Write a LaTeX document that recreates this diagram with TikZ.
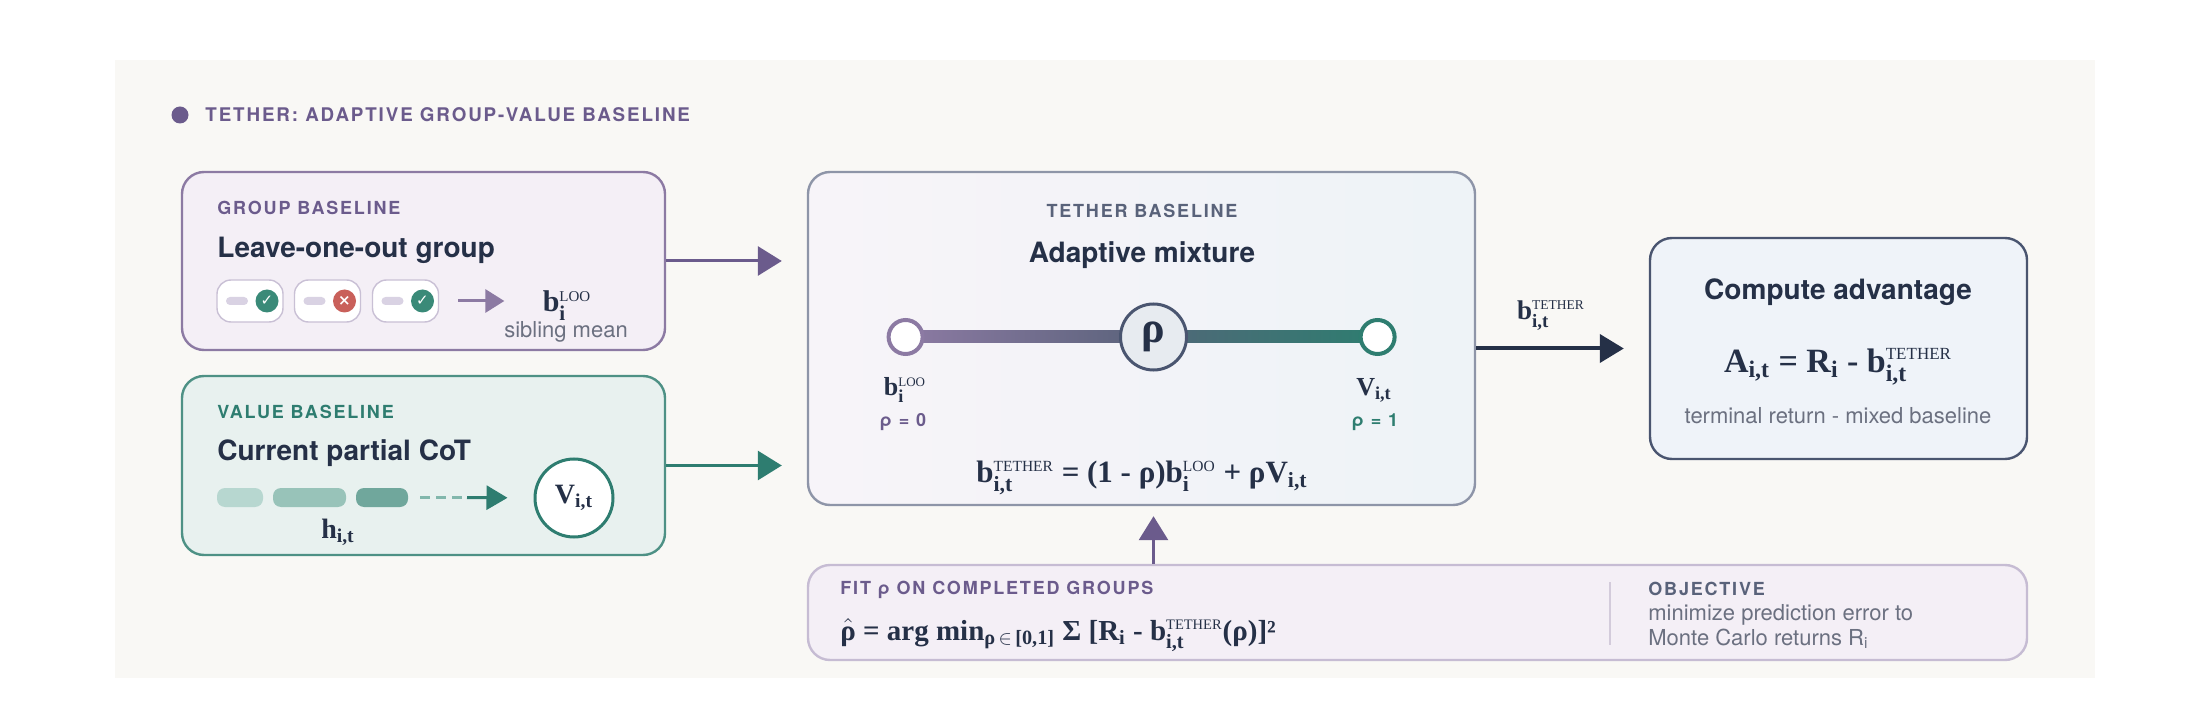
\documentclass[tikz,border=0pt]{standalone}
\usepackage{fontspec}
\usepackage{amsmath}
\usetikzlibrary{arrows.meta}
\setmainfont{Liberation Serif}
\setsansfont{TeX Gyre Heros}
\newfontfamily\capsfont[LetterSpace=10]{TeX Gyre Heros}
\newfontfamily\symfont{DejaVu Sans}
\definecolor{paper}{HTML}{F9F8F5}
\definecolor{plum}{HTML}{6B5B8C}
\definecolor{plumline}{HTML}{8C7AA3}
\definecolor{plumfill}{HTML}{F4EFF6}
\definecolor{teal}{HTML}{2E7D70}
\definecolor{tealline}{HTML}{4E9185}
\definecolor{tealfill}{HTML}{E8F1EF}
\definecolor{navy}{HTML}{253047}
\definecolor{slate}{HTML}{59627A}
\definecolor{slateline}{HTML}{8E95A8}
\definecolor{navyline}{HTML}{4A5570}
\definecolor{cmpfill}{HTML}{EFF3F9}
\definecolor{fitline}{HTML}{C6BCD3}
\definecolor{grey}{HTML}{6B7080}
\definecolor{chipline}{HTML}{C9C0D5}
\definecolor{pill}{HTML}{D9D2E3}
\definecolor{okc}{HTML}{3A8A78}
\definecolor{badc}{HTML}{C9605A}
\definecolor{tokA}{HTML}{B7D7D0}
\definecolor{tokB}{HTML}{98C3B9}
\definecolor{tokC}{HTML}{70A79C}
\definecolor{dashc}{HTML}{82B7AC}
\definecolor{rhofill}{HTML}{E7EBF0}
\definecolor{divc}{HTML}{D3CBDB}
\newcommand\bsub[3]{#1$_{\text{#2}}^{\scriptscriptstyle\text{\mdseries #3}}$}
\newcommand\bsb[2]{#1$_{\text{#2}}$}
\begin{document}
\begin{tikzpicture}[x=0.5pt,y=-0.5pt,
  box/.style={draw,rounded corners=11pt,line width=1.2pt,inner sep=0pt},
  kicker/.style={font=\capsfont\bfseries\fontsize{9}{9}\selectfont,inner sep=0pt,anchor=west},
  head/.style={font=\sffamily\bfseries\fontsize{14}{14}\selectfont,text=navy,inner sep=0pt},
  note/.style={font=\sffamily\fontsize{11}{11}\selectfont,text=grey,inner sep=0pt},
  rholab/.style={font=\capsfont\bfseries\fontsize{9}{9}\selectfont,inner sep=0pt},
  mth/.style={font=\bfseries\fontsize{#1}{#1}\selectfont,text=navy,inner sep=0pt},
  mth/.default=14,
  tok/.style={rounded corners=4pt,minimum height=9.5pt,inner sep=0pt},
  link/.style={-{Triangle[length=12pt,width=14.5pt]},line width=1.5pt}]
  \useasboundingbox (0,0) rectangle (2210,705);
  \fill[paper] (115,60) rectangle (2095,678);
  \fill[plum] (180,115) circle (8.5);
  \node[kicker,text=plum,font=\capsfont\bfseries\fontsize{9.4}{9.4}\selectfont] (title) at (205,115) {TETHER: ADAPTIVE GROUP-VALUE BASELINE};

  \node[box,draw=plumline,fill=plumfill,minimum width=241.5pt,minimum height=89pt] (group) at (423.5,261) {};
  \node[box,draw=tealline,fill=tealfill,minimum width=241.5pt,minimum height=89.5pt] (value) at (423.5,465.5) {};
  \node[box,draw=slateline,left color=plumfill!70!white,right color=cmpfill!80!tealfill,minimum width=333.5pt,minimum height=166.5pt] (mix) at (1141.5,338.5) {};
  \node[box,draw=navyline,fill=cmpfill,minimum width=188.5pt,minimum height=110.5pt] (cmp) at (1838.5,348.5) {};
  \node[box,draw=fitline,fill=plumfill,minimum width=609.5pt,minimum height=47.5pt] (fit) at (1417.5,612.5) {};

  \node[kicker,text=plum] (glabel) at (217,208) {GROUP BASELINE};
  \node[head,anchor=base west] (gtitle) at (217,258) {Leave-one-out group};
  \foreach \x/\c/\s [count=\i] in {250/okc/✓,327.5/badc/×,405.5/okc/✓} {
    \node[draw=chipline,fill=white,rounded corners=7pt,line width=0.7pt,minimum width=33pt,minimum height=21pt] (chip\i) at (\x,301) {};
    \fill[pill,rounded corners=2pt] (\x-24,297) rectangle (\x-2,305);
    \node[circle,fill=\c,minimum size=11.5pt,inner sep=0pt,text=white,font=\symfont\bfseries\fontsize{7.5}{7.5}\selectfont] (mark\i) at (\x+17,301) {\s};
  }
  \node[mth=15,anchor=base] (loo) at (567,312) {\bsub{b}{i}{LOO}};
  \node[note,anchor=base] (sib) at (566,338) {sibling mean};
  \draw[-{Triangle[length=9.5pt,width=11.5pt]},line width=1.5pt,plumline,shorten <=9.5pt,shorten >=19pt] (chip3.east) -- (chip3.east -| loo.west);

  \node[kicker,text=teal] (vlabel) at (217,412) {VALUE BASELINE};
  \node[head,anchor=base west] (vtitle) at (217,460) {Current partial CoT};
  \node[tok,fill=tokA,minimum width=23pt] (tok1) at (240,497.5) {};
  \node[tok,fill=tokB,minimum width=36.5pt] (tok2) at (309.5,497.5) {};
  \node[tok,fill=tokC,minimum width=26pt] (tok3) at (382,497.5) {};
  \node[mth=14,anchor=base] (h) at (338,538) {\bsb{h}{i,t}};
  \node[circle,draw=teal,fill=white,line width=1.5pt,minimum size=39pt,inner sep=0pt,font=\bfseries\fontsize{14}{14}\selectfont,text=navy] (vcirc) at (574,498) {\bsb{V}{i,t}};
  \coordinate (hend) at (467,497.5);
  \draw[dashc,line width=1.2pt,dash pattern=on 5pt off 3pt,shorten <=6pt] (tok3.east) -- (hend);
  \draw[teal,-{Triangle[length=10.5pt,width=12pt]},line width=1.5pt,shorten >=13pt] (hend) -- (vcirc.west);

  \node[kicker,text=slate,anchor=center] (mlabel) at (1142,211) {TETHER BASELINE};
  \node[head,anchor=base] (mtitle) at (1142,263) {Adaptive mixture};
  \coordinate (lo) at (905.6,337);
  \coordinate (mid) at (1153.5,337);
  \coordinate (hi) at (1377.6,337);
  \shade[left color=plumline,right color=slate] ([yshift=3pt]lo) rectangle ([yshift=-3pt]mid);
  \shade[left color=slate!80!teal,right color=teal] ([yshift=3pt]mid) rectangle ([yshift=-3pt]hi);
  \node[circle,draw=plumline,fill=white,line width=2pt,minimum size=17pt,inner sep=0pt] (lodot) at (lo) {};
  \node[circle,draw=teal,fill=white,line width=2pt,minimum size=17pt,inner sep=0pt] (hidot) at (hi) {};
  \node[circle,draw=navyline,fill=rhofill,line width=1.5pt,minimum size=33pt,inner sep=0pt,font=\bfseries\fontsize{22}{22}\selectfont,text=navy] (rho) at (mid) {ρ};
  \node[mth=13,anchor=base] (lolab) at (905,395) {\bsub{b}{i}{LOO}};
  \node[rholab,text=plum] (lorho) at (903,422) {ρ = 0};
  \node[mth=13,anchor=base] (hilab) at (1374,395) {\bsb{V}{i,t}};
  \node[rholab,text=teal] (hirho) at (1375,422) {ρ = 1};
  \node[mth=15.5,anchor=base] (mixeq) at (1142,482) {\bsub{b}{i,t}{TETHER} = (1 - ρ)\bsub{b}{i}{LOO} + ρ\bsb{V}{i,t}};

  \node[head,anchor=base] (ctitle) at (1838,300) {Compute advantage};
  \node[mth=17,anchor=base] (adv) at (1838,372) {\bsb{A}{i,t} = \bsb{R}{i} - \bsub{b}{i,t}{TETHER}};
  \node[note,anchor=base] (cnote) at (1838,423) {terminal return - mixed baseline};

  \node[kicker,text=plum] (flabel) at (840,590) {FIT ρ ON COMPLETED GROUPS};
  \node[mth=14.5,anchor=base west] (fiteq) at (840,640) {$\hat{\text{ρ}}$ = arg min$_{\text{ρ}\,\in\,\text{[0,1]}}$ Σ [\bsb{R}{i} - \bsub{b}{i,t}{TETHER}(ρ)]²};
  \draw[divc,line width=0.8pt] (1610,582) -- (1610,645);
  \node[kicker,text=slate] (obj) at (1648,589) {OBJECTIVE};
  \node[note,anchor=base west] (obj1) at (1648,620) {minimize prediction error to};
  \node[note,anchor=base west] (obj2) at (1648,645) {Monte Carlo returns R\textsubscript{i}};

  \draw[link,plum,shorten >=12.5pt] (group.east) -- (mix.west |- group);
  \draw[link,teal,shorten >=12.5pt] (value.east) -- (mix.west |- value);
  \draw[-{Triangle[length=12pt,width=14pt]},line width=2pt,navy,shorten >=12.5pt] (mix.east |- cmp) -- (cmp.west);
  \node[mth=13.5,anchor=base] (blab) at (1551,320) {\bsub{b}{i,t}{TETHER}};
  \draw[link,plum,shorten >=5pt] (fit.north -| rho) -- (mix.south -| rho);
\end{tikzpicture}
\end{document}
